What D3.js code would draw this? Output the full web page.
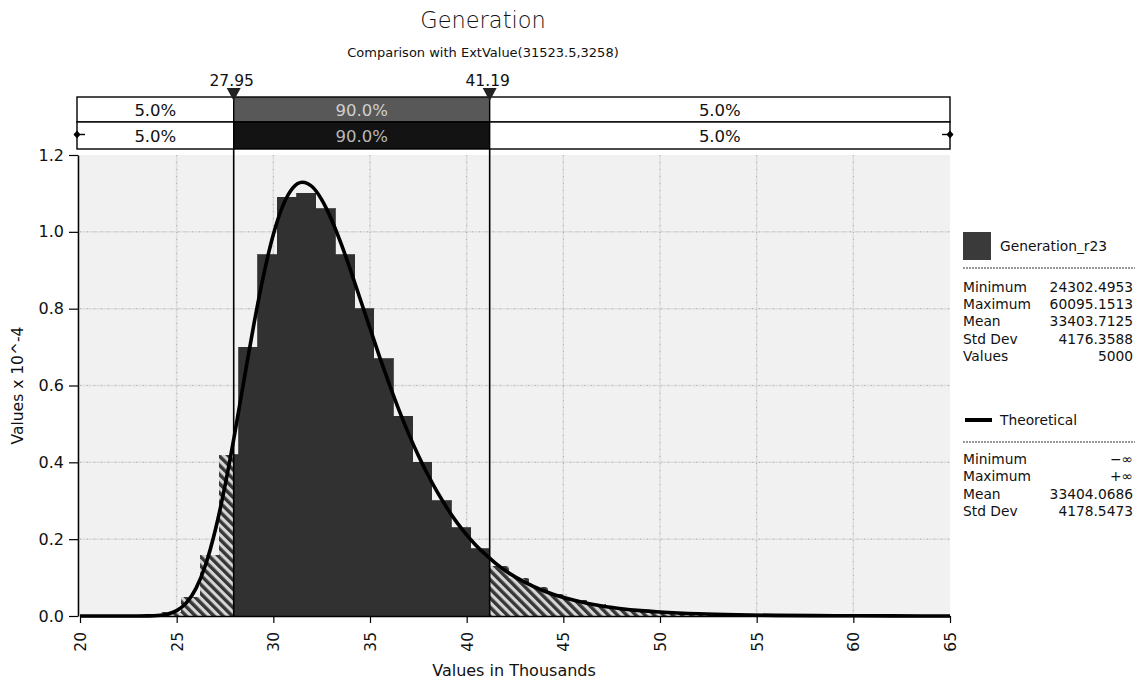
<!DOCTYPE html>
<html><head><meta charset="utf-8">
<script src="https://cdn.jsdelivr.net/npm/d3@7"></script>
<style>
body{margin:0;background:#fff}
svg{display:block}
text{font-family:"DejaVu Sans",Verdana,sans-serif;fill:#111}
</style>
</head><body>
<svg id="c" width="1138" height="681"></svg>
<script>
// ---------- data ----------
const binStarts = [24.2,25.2,26.2,27.2,28.2,29.2,30.2,31.2,32.2,33.2,34.2,35.2,36.2,37.2,38.2,39.2,40.2,41.2,42.2,43.2,44.2,45.2,46.2,47.2,48.2,49.2,50.2,51.2,52.2,53.2,54.2,55.2,56.2,57.2,58.2,59.2];
const binHeights = [0.01,0.05,0.16,0.42,0.70,0.94,1.09,1.10,1.06,0.94,0.80,0.67,0.52,0.40,0.30,0.23,0.175,0.13,0.10,0.075,0.056,0.042,0.031,0.023,0.017,0.013,0.010,0.007,0.005,0.004,0.003,0.002,0.002,0.001,0.001,0.001];
const binWidth = 1.0;
const curveX = [20,21,22,23,23.5,24,24.5,25,25.5,26,26.5,27,27.5,28,28.5,29,29.5,30,30.5,31,31.5,32,32.5,33,33.5,34,34.5,35,35.5,36,36.5,37,37.5,38,38.5,39,39.5,40,40.5,41,41.5,42,43,44,45,46,47,48,49,50,52,54,56,58,60,62,65];
const curveY = [0,0,0,0,0.0003,0.0013,0.0047,0.0139,0.034,0.072,0.134,0.224,0.339,0.474,0.619,0.761,0.888,0.993,1.069,1.114,1.129,1.118,1.084,1.033,0.970,0.899,0.824,0.749,0.674,0.603,0.536,0.474,0.418,0.367,0.321,0.280,0.243,0.211,0.183,0.159,0.137,0.118,0.088,0.065,0.048,0.036,0.026,0.019,0.014,0.0105,0.0057,0.0031,0.0017,0.0009,0.0005,0.0003,0.0001];
const xTicks = [20,25,30,35,40,45,50,55,60,65];
const yTicks = [0,0.2,0.4,0.6,0.8,1.0,1.2];
const delimiters = [27.95, 41.19];
const delimiterLabels = ["27.95","41.19"];
const row1Labels = ["5.0%","90.0%","5.0%"];
const row2Labels = ["5.0%","90.0%","5.0%"];
const seriesName = "Generation_r23";
const statLabels = ["Minimum","Maximum","Mean","Std Dev","Values"];
const statValues = ["24302.4953","60095.1513","33403.7125","4176.3588","5000"];
const theoName = "Theoretical";
const theoLabels = ["Minimum","Maximum","Mean","Std Dev"];
const theoValues = ["\u2212\u221E","+\u221E","33404.0686","4178.5473"];
const titleText = "Generation";
const subtitleText = "Comparison with ExtValue(31523.5,3258)";
const xTitle = "Values in Thousands";
const yTitle = "Values x 10^-4";

// ---------- layout ----------
const L = 80, R = 950, T = 155, B = 616;
const svg = d3.select("#c");
const x = d3.scaleLinear().domain([20,65]).range([L,R]);
const y = d3.scaleLinear().domain([0,1.2]).range([B,T]);

const defs = svg.append("defs");
const pat = defs.append("pattern").attr("id","hatch").attr("patternUnits","userSpaceOnUse")
  .attr("width",6.5).attr("height",6.5).attr("patternTransform","rotate(-45)");
pat.append("rect").attr("width",6.5).attr("height",6.5).attr("fill","#d6d6d6");
pat.append("rect").attr("width",3.4).attr("height",6.5).attr("fill","#363636");

// plot background
svg.append("rect").attr("x",L).attr("y",T).attr("width",R-L).attr("height",B-T).attr("fill","#f1f1f1");

// grid
const grid = svg.append("g");
grid.selectAll(".gx").data(xTicks.slice(1,-1)).join("line")
  .attr("x1",d=>x(d)).attr("x2",d=>x(d)).attr("y1",T).attr("y2",B)
  .attr("stroke","#dedede").attr("stroke-width",1.5);
grid.selectAll(".gy").data(yTicks.slice(1,-1)).join("line")
  .attr("x1",L).attr("x2",R).attr("y1",d=>y(d)).attr("y2",d=>y(d))
  .attr("stroke","#dedede").attr("stroke-width",1.5);
grid.selectAll(".gx2").data(xTicks.slice(1,-1)).join("line")
  .attr("x1",d=>x(d)).attr("x2",d=>x(d)).attr("y1",T).attr("y2",B)
  .attr("stroke","#888").attr("stroke-width",1).attr("stroke-dasharray","1,6").attr("opacity",0.55);
grid.selectAll(".gy2").data(yTicks.slice(1,-1)).join("line")
  .attr("x1",L).attr("x2",R).attr("y1",d=>y(d)).attr("y2",d=>y(d))
  .attr("stroke","#888").attr("stroke-width",1).attr("stroke-dasharray","1,6").attr("opacity",0.55);

// histogram pieces
const pieces = [];
binStarts.forEach((s,i)=>{
  const e = s + binWidth, h = binHeights[i];
  const cuts = [[-Infinity,delimiters[0],true],[delimiters[0],delimiters[1],false],[delimiters[1],Infinity,true]];
  cuts.forEach(([a,b,hat])=>{
    const x0 = Math.max(s,a), x1 = Math.min(e,b);
    if (x1 > x0) pieces.push({x0,x1,h,hat});
  });
});
svg.append("g").attr("shape-rendering","crispEdges").selectAll("rect").data(pieces).join("rect")
  .attr("x",d=>x(d.x0)).attr("width",d=>x(d.x1)-x(d.x0))
  .attr("y",d=>y(d.h)).attr("height",d=>y(0)-y(d.h))
  .attr("fill",d=>d.hat?"url(#hatch)":"#313131")
  .attr("stroke",d=>d.hat?"none":"#313131").attr("stroke-width",0.8);

// theoretical curve
const line = d3.line().x((d,i)=>x(curveX[i])).y(d=>y(d)).curve(d3.curveMonotoneX);
svg.append("path").attr("d",line(curveY)).attr("fill","none").attr("stroke","#000").attr("stroke-width",3.6).attr("stroke-linejoin","round");

// axes
const ya = svg.append("g").attr("transform",`translate(${L-2},0)`)
  .call(d3.axisLeft(y).tickValues(yTicks).tickFormat(d3.format(".1f")).tickSize(9).tickSizeOuter(0));
ya.select(".domain").attr("stroke","#000").attr("stroke-width",1.6);
ya.selectAll(".tick line").attr("stroke","#000").attr("stroke-width",1.2);
ya.selectAll(".tick text").attr("font-size",16).attr("x",-14)
  .style("font-family","DejaVu Sans, Verdana, sans-serif").attr("fill","#111");

const xa = svg.append("g").attr("transform",`translate(0,${B})`)
  .call(d3.axisBottom(x).tickValues(xTicks).tickFormat(d3.format("d")).tickSize(7).tickSizeOuter(0));
xa.select(".domain").attr("stroke","#000").attr("stroke-width",1.6);
xa.selectAll(".tick line").attr("stroke","#000").attr("stroke-width",1.2);
xa.selectAll(".tick text").attr("font-size",15.5).attr("transform","rotate(-90)")
  .attr("text-anchor","end").attr("x",-16).attr("y",0).attr("dy","0.36em")
  .style("font-family","DejaVu Sans, Verdana, sans-serif").attr("fill","#111");

// delimiter lines
const rowTop = 97, rowMid = 122, rowBot = 149;
svg.append("g").selectAll("line").data(delimiters).join("line")
  .attr("x1",d=>x(d)).attr("x2",d=>x(d)).attr("y1",rowTop).attr("y2",B)
  .attr("stroke","#000").attr("stroke-width",1.6);

// top percentage bars
const edges = [20, delimiters[0], delimiters[1], 65];
const rowFill1 = ["#fff","#585858","#fff"], rowFill2 = ["#fff","#131313","#fff"];
const txtFill1 = ["#111","#cfcfcf","#111"], txtFill2 = ["#111","#b8b8b8","#111"];
[[rowTop,rowMid,row1Labels,rowFill1,txtFill1],[rowMid,rowBot,row2Labels,rowFill2,txtFill2]].forEach(([t,b,labs,fills,tf])=>{
  const g = svg.append("g");
  labs.forEach((lab,i)=>{
    const xa0 = i===0 ? L-3 : x(edges[i]);
    const xa1 = x(edges[i+1]);
    g.append("rect").attr("x",xa0).attr("y",t).attr("width",xa1-xa0).attr("height",b-t)
      .attr("fill",fills[i]).attr("stroke","#000").attr("stroke-width",1.4);
    g.append("text").attr("x",(xa0+xa1)/2).attr("y",(t+b)/2).attr("dy","0.37em")
      .attr("text-anchor","middle").attr("font-size",16.5).style("fill",tf[i]).text(lab);
  });
});
// end markers of second row
const ym = (rowMid+rowBot)/2;
[[L-3,-1],[R,1]].forEach(([px,dir])=>{
  svg.append("line").attr("x1",px - dir*8).attr("x2",px+dir*3).attr("y1",ym-1).attr("y2",ym-1).attr("stroke","#000").attr("stroke-width",1.4);
  svg.append("path").attr("d",`M${px},${ym-5} L${px+3.5},${ym-1} L${px},${ym+3} L${px-3.5},${ym-1}Z`).attr("fill","#000");
});

// delimiter triangles and labels
svg.append("g").selectAll("path").data(delimiters).join("path")
  .attr("d",d=>`M${x(d)-7},${rowTop-9} L${x(d)+7},${rowTop-9} L${x(d)},${rowTop+4}Z`).attr("fill","#222");
svg.append("g").selectAll("text").data(delimiters).join("text")
  .attr("x",d=>x(d)-2).attr("y",rowTop-11).attr("text-anchor","middle").attr("font-size",15.5)
  .text((d,i)=>delimiterLabels[i]);

// titles
svg.append("text").attr("x",483).attr("y",28).attr("text-anchor","middle").attr("font-size",22.5).attr("font-weight",300).text(titleText);
svg.append("text").attr("x",483).attr("y",57).attr("text-anchor","middle").attr("font-size",13).text(subtitleText);
svg.append("text").attr("x",514).attr("y",676).attr("text-anchor","middle").attr("font-size",16).text(xTitle);
svg.append("text").attr("transform",`translate(23,${(T+B)/2}) rotate(-90)`).attr("text-anchor","middle").attr("font-size",15.5).text(yTitle);

// legend
const lg = svg.append("g");
const LX = 963, LR = 1133;
lg.append("rect").attr("x",LX).attr("y",232).attr("width",28).attr("height",28).attr("fill","#3a3a3a");
lg.append("text").attr("x",1000).attr("y",246).attr("dy","0.36em").attr("font-size",13.8).text(seriesName);
lg.append("line").attr("x1",LX).attr("x2",LR+2).attr("y1",268).attr("y2",268).attr("stroke","#333").attr("stroke-width",1).attr("stroke-dasharray","2,1");
statLabels.forEach((s,i)=>{
  const yy = 287 + i*17.2;
  lg.append("text").attr("x",LX).attr("y",yy).attr("dy","0.36em").attr("font-size",13.8).text(s);
  lg.append("text").attr("x",LR).attr("y",yy).attr("dy","0.36em").attr("font-size",13.8).attr("text-anchor","end").text(statValues[i]);
});
lg.append("line").attr("x1",LX+2).attr("x2",LX+29).attr("y1",420).attr("y2",420).attr("stroke","#000").attr("stroke-width",4);
lg.append("text").attr("x",1000).attr("y",420).attr("dy","0.36em").attr("font-size",13.8).text(theoName);
lg.append("line").attr("x1",LX).attr("x2",LR+2).attr("y1",442).attr("y2",442).attr("stroke","#333").attr("stroke-width",1).attr("stroke-dasharray","2,1");
theoLabels.forEach((s,i)=>{
  const yy = 459 + i*17.4;
  lg.append("text").attr("x",LX).attr("y",yy).attr("dy","0.36em").attr("font-size",13.8).text(s);
  lg.append("text").attr("x",LR).attr("y",yy).attr("dy","0.36em").attr("font-size",13.8).attr("text-anchor","end").text(theoValues[i]);
});
</script>
</body></html>
